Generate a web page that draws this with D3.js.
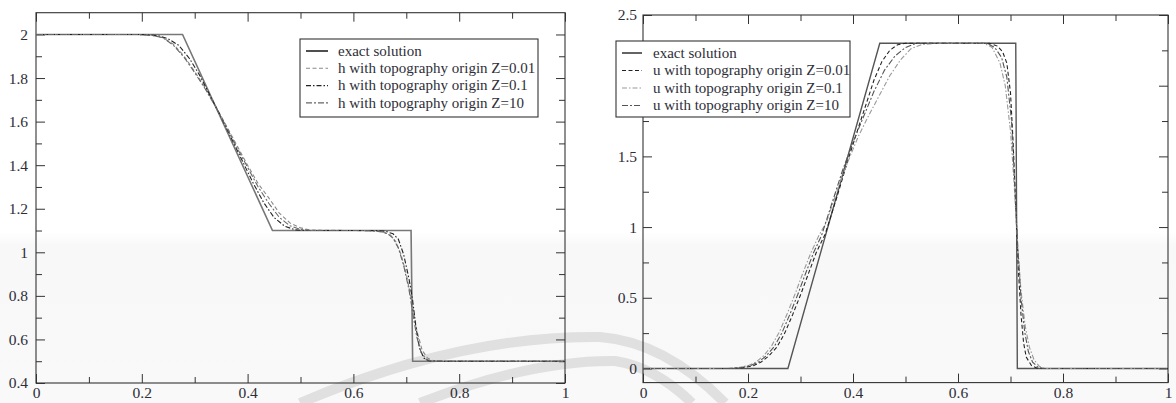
<!DOCTYPE html>
<html>
<head>
<meta charset="utf-8">
<script src="https://cdn.jsdelivr.net/npm/d3@7"></script>
<style>
  html, body { margin: 0; padding: 0; background: #fff; }
  svg { display: block; font-family: "Liberation Serif", "DejaVu Serif", serif; }
</style>
</head>
<body>
<div id="chart"></div>
<script>
// x ticks shared by both panels
const xMajor = [0, 0.2, 0.4, 0.6, 0.8, 1]
const xMinor = [0.1, 0.3, 0.5, 0.7, 0.9]

// left panel: water height h
const hMajor = [0.4, 0.6, 0.8, 1, 1.2, 1.4, 1.6, 1.8, 2]
const hMinor = [0.5, 0.7, 0.9, 1.1, 1.3, 1.5, 1.7, 1.9]
const hLabels = ["exact solution", "h with topography origin Z=0.01", "h with topography origin Z=0.1", "h with topography origin Z=10"]

const hExactX = [0, 0.277, 0.447, 0.709, 0.712, 1]
const hExactY = [2, 2, 1.1, 1.1, 0.5, 0.5]

const hZ001X = [0, 0.19, 0.22, 0.24, 0.26, 0.28, 0.30, 0.32, 0.34, 0.36, 0.38, 0.40, 0.42, 0.44, 0.46, 0.48, 0.50, 0.52, 0.60, 0.64, 0.66, 0.67, 0.68, 0.69, 0.70, 0.71, 0.72, 0.73, 0.74, 0.75, 0.77, 1]
const hZ001Y = [2, 2, 1.995, 1.985, 1.955, 1.90, 1.83, 1.755, 1.67, 1.58, 1.49, 1.40, 1.315, 1.25, 1.18, 1.135, 1.112, 1.102, 1.1, 1.098, 1.09, 1.08, 1.05, 0.99, 0.90, 0.78, 0.64, 0.55, 0.515, 0.503, 0.5, 0.5]

const hZ01X = [0, 0.2, 0.23, 0.25, 0.27, 0.29, 0.31, 0.33, 0.35, 0.37, 0.39, 0.41, 0.43, 0.45, 0.47, 0.49, 0.51, 0.64, 0.66, 0.675, 0.685, 0.695, 0.705, 0.712, 0.718, 0.725, 0.733, 0.742, 0.76, 1]
const hZ01Y = [2, 2, 1.995, 1.98, 1.95, 1.89, 1.81, 1.715, 1.62, 1.52, 1.42, 1.32, 1.23, 1.16, 1.12, 1.103, 1.1, 1.1, 1.097, 1.085, 1.06, 0.99, 0.88, 0.78, 0.66, 0.56, 0.515, 0.502, 0.5, 0.5]

const hZ10X = [0, 0.19, 0.22, 0.24, 0.26, 0.28, 0.30, 0.32, 0.34, 0.36, 0.38, 0.40, 0.42, 0.44, 0.46, 0.48, 0.50, 0.52, 0.62, 0.65, 0.665, 0.675, 0.685, 0.695, 0.705, 0.713, 0.72, 0.728, 0.738, 0.75, 1]
const hZ10Y = [2, 2, 1.996, 1.985, 1.95, 1.895, 1.825, 1.75, 1.665, 1.575, 1.48, 1.39, 1.30, 1.225, 1.16, 1.122, 1.105, 1.1, 1.1, 1.096, 1.085, 1.065, 1.02, 0.94, 0.83, 0.71, 0.61, 0.54, 0.508, 0.5, 0.5]

// right panel: velocity u
const uMajor = [0, 0.5, 1, 1.5, 2, 2.5]
const uMinor = [0.25, 0.75, 1.25, 1.75, 2.25]
const uLabels = ["exact solution", "u with topography origin Z=0.01", "u with topography origin Z=0.1", "u with topography origin Z=10"]

const uExactX = [0, 0.276, 0.451, 0.71, 0.713, 1]
const uExactY = [0, 0, 2.3, 2.3, 0, 0]

const uZ001X = [0, 0.17, 0.19, 0.21, 0.225, 0.24, 0.255, 0.27, 0.285, 0.30, 0.315, 0.33, 0.347, 0.37, 0.39, 0.41, 0.425, 0.44, 0.455, 0.47, 0.485, 0.50, 0.66, 0.675, 0.685, 0.693, 0.70, 0.705, 0.71, 0.715, 0.72, 0.725, 0.73, 0.74, 0.75, 0.76, 1]
const uZ001Y = [0, 0, 0.005, 0.02, 0.045, 0.09, 0.15, 0.25, 0.38, 0.52, 0.67, 0.82, 0.95, 1.22, 1.47, 1.70, 1.87, 2.04, 2.17, 2.25, 2.29, 2.3, 2.3, 2.28, 2.24, 2.16, 1.95, 1.6, 1.15, 0.7, 0.38, 0.18, 0.08, 0.02, 0.003, 0, 0]

const uZ01X = [0, 0.16, 0.18, 0.20, 0.215, 0.23, 0.245, 0.26, 0.275, 0.29, 0.305, 0.32, 0.335, 0.35, 0.37, 0.39, 0.41, 0.43, 0.45, 0.47, 0.49, 0.51, 0.53, 0.56, 0.65, 0.665, 0.68, 0.69, 0.70, 0.707, 0.713, 0.72, 0.728, 0.736, 0.745, 0.755, 0.765, 1]
const uZ01Y = [0, 0, 0.005, 0.02, 0.045, 0.09, 0.16, 0.26, 0.39, 0.53, 0.68, 0.82, 0.94, 1.04, 1.26, 1.46, 1.64, 1.79, 1.93, 2.07, 2.18, 2.26, 2.29, 2.3, 2.3, 2.27, 2.16, 2.0, 1.68, 1.3, 0.9, 0.55, 0.3, 0.15, 0.06, 0.015, 0, 0]

const uZ10X = [0, 0.165, 0.185, 0.205, 0.22, 0.235, 0.25, 0.265, 0.28, 0.295, 0.31, 0.325, 0.34, 0.36, 0.38, 0.40, 0.42, 0.44, 0.46, 0.48, 0.50, 0.52, 0.655, 0.67, 0.683, 0.693, 0.702, 0.708, 0.714, 0.72, 0.727, 0.734, 0.742, 0.752, 0.762, 1]
const uZ10Y = [0, 0, 0.005, 0.02, 0.045, 0.09, 0.155, 0.255, 0.385, 0.525, 0.675, 0.82, 0.94, 1.17, 1.40, 1.60, 1.78, 1.96, 2.11, 2.21, 2.27, 2.3, 2.3, 2.27, 2.2, 2.06, 1.75, 1.3, 0.85, 0.5, 0.26, 0.12, 0.045, 0.01, 0, 0]

const width = 1176
const height = 403
const zip = (X, Y) => X.map((x, i) => [x, Y[i]])

const svg = d3.select("#chart")
    .append("svg")
    .attr("width", width)
    .attr("height", height)
    .attr("viewBox", [0, 0, width, height])

// scan artefacts: slightly grey lower band and two watermark arcs
const defs = svg.append("defs")
const grad = defs.append("linearGradient").attr("id", "band").attr("x1", 0).attr("x2", 0).attr("y1", 0).attr("y2", 1)
grad.append("stop").attr("offset", 0).attr("stop-color", "#fff")
grad.append("stop").attr("offset", 0.08).attr("stop-color", "#f8f8f8")
grad.append("stop").attr("offset", 1).attr("stop-color", "#f9f9f9")
svg.append("rect").attr("x", 0).attr("y", 232).attr("width", width).attr("height", height - 232).attr("fill", "url(#band)")

const wm = svg.append("g").attr("fill", "none").attr("stroke", "#e0e0e0").attr("stroke-width", 10)
wm.append("path").attr("d", "M 300 403 Q 460 335 600 337 Q 665 342 725 403")
wm.append("path").attr("d", "M 420 403 Q 530 360 615 361 Q 655 367 692 403")

function drawPanel(cfg) {
    const x = d3.scaleLinear([0, 1], cfg.xRange)
    const y = d3.scaleLinear(cfg.yDomain, cfg.yRange)
    const g = svg.append("g")
    const fmt = d3.format("~g")

    const styleAxis = a => a
        .call(s => s.select(".domain").remove())
        .call(s => s.selectAll("line").attr("stroke", "#333"))
        .call(s => s.selectAll("text").attr("fill", "#2e2e38").attr("font-size", 15.5)
            .attr("font-family", "Liberation Serif, serif"))

    const [x0, x1] = cfg.xRange
    const [yb, yt] = cfg.yRange

    // major and minor ticks, pointing inwards on all four sides
    g.append("g").attr("transform", `translate(0,${yb})`)
        .call(d3.axisBottom(x).tickValues(xMajor).tickSize(-9).tickPadding(4).tickFormat(fmt)).call(styleAxis)
    g.append("g").attr("transform", `translate(0,${yb})`)
        .call(d3.axisBottom(x).tickValues(xMinor).tickSize(-6).tickFormat("")).call(styleAxis)
    g.append("g").attr("transform", `translate(0,${yt})`)
        .call(d3.axisTop(x).tickValues(xMajor).tickSize(-9).tickFormat("")).call(styleAxis)
    g.append("g").attr("transform", `translate(0,${yt})`)
        .call(d3.axisTop(x).tickValues(xMinor).tickSize(-6).tickFormat("")).call(styleAxis)
    g.append("g").attr("transform", `translate(${x0},0)`)
        .call(d3.axisLeft(y).tickValues(cfg.yMajor).tickSize(-9).tickPadding(cfg.yPad).tickFormat(fmt)).call(styleAxis)
    g.append("g").attr("transform", `translate(${x0},0)`)
        .call(d3.axisLeft(y).tickValues(cfg.yMinor).tickSize(-6).tickFormat("")).call(styleAxis)
    g.append("g").attr("transform", `translate(${x1},0)`)
        .call(d3.axisRight(y).tickValues(cfg.yMajor).tickSize(-9).tickFormat("")).call(styleAxis)
    g.append("g").attr("transform", `translate(${x1},0)`)
        .call(d3.axisRight(y).tickValues(cfg.yMinor).tickSize(-6).tickFormat("")).call(styleAxis)

    g.append("rect")
        .attr("x", x0).attr("y", yt)
        .attr("width", x1 - x0).attr("height", yb - yt)
        .attr("fill", "none").attr("stroke", "#333").attr("stroke-width", 1.1)

    const line = d3.line().x(d => x(d[0])).y(d => y(d[1]))
    const clipId = "clip" + cfg.id
    g.append("clipPath").attr("id", clipId).append("rect")
        .attr("x", x0).attr("y", yt).attr("width", x1 - x0).attr("height", yb - yt)

    g.append("g").attr("clip-path", `url(#${clipId})`)
        .selectAll("path")
        .data(cfg.series)
        .join("path")
        .attr("d", s => line(s.data))
        .attr("fill", "none")
        .attr("stroke", s => s.color)
        .attr("stroke-width", s => s.width)
        .attr("stroke-dasharray", s => s.dash)

    // legend box
    const lg = cfg.legend
    g.append("rect")
        .attr("x", lg.x).attr("y", lg.y).attr("width", lg.w).attr("height", lg.h)
        .attr("fill", "#fff").attr("stroke", "#333").attr("stroke-width", 1.1)
    const rows = g.append("g").selectAll("g")
        .data(cfg.series)
        .join("g")
        .attr("transform", (s, i) => `translate(${lg.x},${lg.y + lg.top + i * lg.step})`)
    rows.append("line")
        .attr("x1", lg.s0).attr("x2", lg.s1)
        .attr("stroke", (s, i) => i === 0 ? "#222" : s.color)
        .attr("stroke-width", s => s.width)
        .attr("stroke-dasharray", s => s.dash)
    rows.append("text")
        .attr("x", lg.tx).attr("dy", "0.32em")
        .attr("font-size", 15).attr("fill", "#2e2e38")
        .text(s => s.label)
}

drawPanel({
    id: "h",
    xRange: [36, 565],
    yDomain: [0.4, 2.1],
    yRange: [383, 12.7],
    yMajor: hMajor, yMinor: hMinor, yPad: 8,
    legend: { x: 300, y: 39, w: 238, h: 78, top: 12, step: 17.3, s0: 6, s1: 28, tx: 38 },
    series: [
        { label: hLabels[0], data: zip(hExactX, hExactY), color: "#777", width: 1.6, dash: null },
        { label: hLabels[1], data: zip(hZ001X, hZ001Y), color: "#8a8a8a", width: 1.1, dash: "4,2.5" },
        { label: hLabels[2], data: zip(hZ01X, hZ01Y), color: "#222", width: 1.1, dash: "5,2,1.5,2" },
        { label: hLabels[3], data: zip(hZ10X, hZ10Y), color: "#666", width: 1.1, dash: "6,2,2,2" }
    ]
})

drawPanel({
    id: "u",
    xRange: [643, 1168],
    yDomain: [-0.1, 2.5],
    yRange: [382.6, 15],
    yMajor: uMajor, yMinor: uMinor, yPad: 6,
    legend: { x: 616, y: 41, w: 234, h: 76, top: 12, step: 17.5, s0: 6, s1: 26, tx: 37 },
    series: [
        { label: uLabels[0], data: zip(uExactX, uExactY), color: "#555", width: 1.4, dash: null },
        { label: uLabels[1], data: zip(uZ001X, uZ001Y), color: "#222", width: 1.1, dash: "4,2.5" },
        { label: uLabels[2], data: zip(uZ01X, uZ01Y), color: "#999", width: 1.1, dash: "5,2,1.5,2" },
        { label: uLabels[3], data: zip(uZ10X, uZ10Y), color: "#555", width: 1.1, dash: "6,2,2,2" }
    ]
})
</script>
</body>
</html>
